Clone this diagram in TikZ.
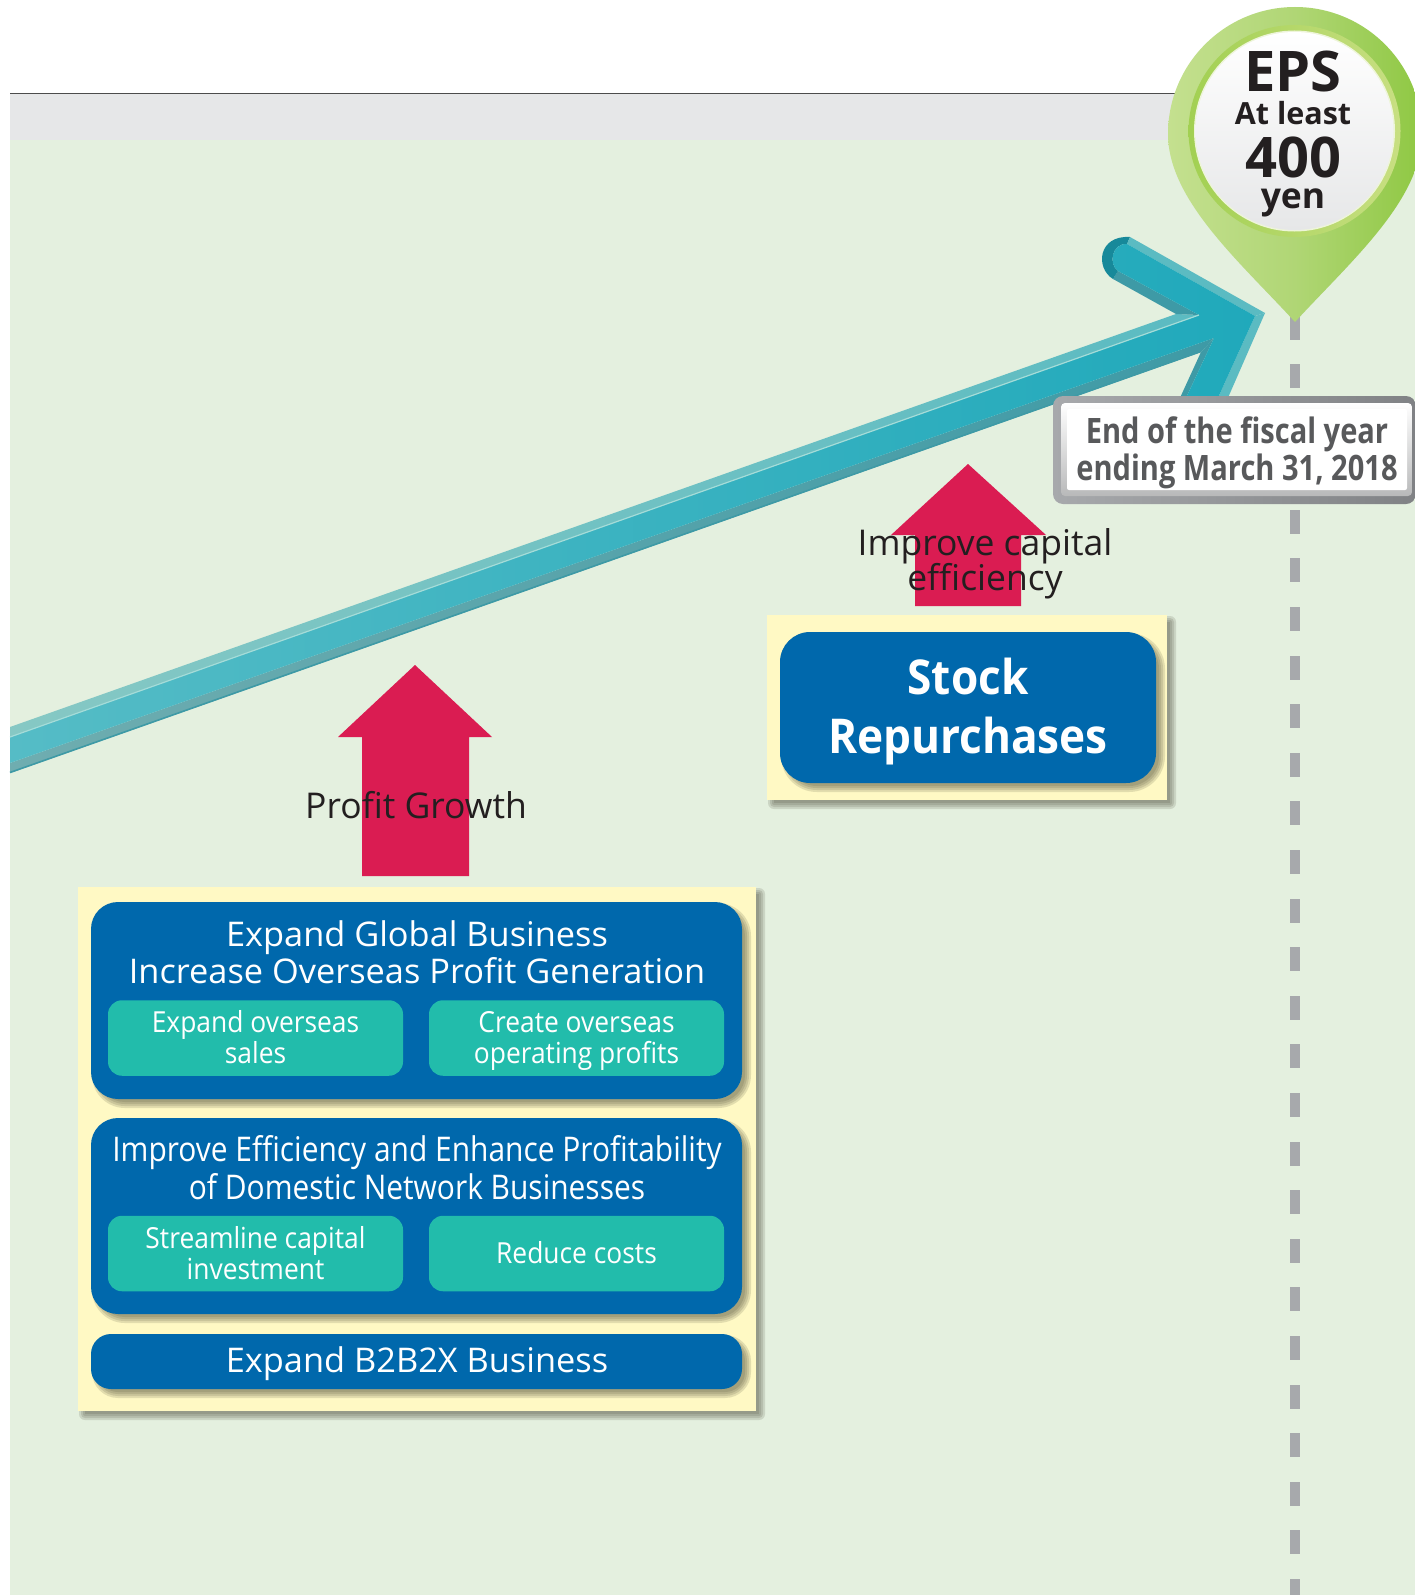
\documentclass[tikz,border=0pt]{standalone}
\usepackage{fontspec}
\setmainfont{Open Sans}
\newfontfamily\fhead[FakeStretch=1.01]{Open Sans}
\newfontfamily\fcond[FakeStretch=0.88]{Open Sans}
\newfontfamily\fteal[FakeStretch=0.91]{Open Sans}
\newfontfamily\fpin[FakeStretch=1.0]{Open Sans}
\newfontfamily\flabel[FakeStretch=0.83]{Open Sans}
\newfontfamily\fstock[FakeStretch=0.92]{Open Sans}
\lineskiplimit=-20pt
\definecolor{bggreen}{HTML}{E4F0DF}
\definecolor{band}{HTML}{E6E7E8}
\definecolor{paleyellow}{HTML}{FFF9C4}
\definecolor{bluebox}{HTML}{0068AC}
\definecolor{tealbox}{HTML}{22BCAB}
\definecolor{redarrow}{HTML}{DA1C52}
\definecolor{dashgray}{HTML}{A7A9AC}
\definecolor{inktext}{HTML}{231F20}
\definecolor{labeltext}{HTML}{58595B}
\definecolor{arrowL}{HTML}{55BCC6}
\definecolor{arrowR}{HTML}{20A9BB}
\definecolor{bevelLightL}{HTML}{86C8C4}
\definecolor{bevelLightR}{HTML}{5BBBC2}
\definecolor{bevelDarkL}{HTML}{6FADB0}
\definecolor{bevelDarkR}{HTML}{3E9AA6}
\definecolor{bevelEnd}{HTML}{17899A}
\definecolor{highlight}{HTML}{A5DCD8}
\definecolor{pinL}{HTML}{C4E08F}
\definecolor{pinM}{HTML}{B0D675}
\definecolor{pinR}{HTML}{8FC843}
\definecolor{ringA}{HTML}{A2D052}
\definecolor{ringB}{HTML}{C8DF82}
\definecolor{frameA}{HTML}{A7A9AC}
\definecolor{frameB}{HTML}{808285}
\tikzset{
  base text/.style={inner sep=0pt,outer sep=0pt,anchor=base,align=center},
  white text/.style={base text,text=white},
  dark text/.style={base text,text=inktext},
  gray text/.style={base text,text=labeltext},
  headfont/.style={font=\fhead\fontsize{34}{36.8}\selectfont},
  condfont/.style={font=\fcond\fontsize{34}{37.8}\selectfont},
  tealfont/.style={font=\fteal\fontsize{29}{30.7}\selectfont},
  plainfont/.style={font=\fontsize{35.5}{34.6}\selectfont},
}
\newcommand\softshadow[5]{%
  \foreach \w in {-2,0,2,4}{%
    \fill[black!70!olive,opacity=0.15,rounded corners={#5+\w*1pt+2pt}]
      ({#1+5-\w},{#2+5-\w}) rectangle ({#3+5+\w},{#4+5+\w});}}
\begin{document}
\begin{tikzpicture}[x=1pt,y=-1pt]
\useasboundingbox (0,0) rectangle (1415,1595);
\fill[white] (0,0) rectangle (1415,1595);
% background
\fill[bggreen] (10,93) rectangle (1415,1595);
\fill[band] (10,93) rectangle (1415,140);
\draw[line width=0.8pt,black!70] (10,93) -- (1415,93);
% dashed time line
\foreach \k in {0,...,25}{\fill[dashgray] (1290,{364+48.6*\k}) rectangle (1300,{388+48.6*\k});}
\fill[dashgray] (1290,317) rectangle (1300,340);
% rising arrow: bevel strips then the flat face
\shade[left color=bevelLightL,right color=bevelLightR] (10,727) -- (1176,314) -- (1199,315) -- (10,737) -- cycle;
\shade[left color=bevelDarkL,right color=bevelDarkR] (10,773) -- (1201,352) -- (1214,338) -- (10,763) -- cycle;
\fill[bevelDarkR] (1176,314) -- (1113,279) -- (1118,271) -- (1199,315) -- cycle;
\fill[bevelEnd] (1113,279) .. controls (1095,268) and (1098,235) .. (1130,237) -- (1127,244) .. controls (1112,243) and (1108,264) .. (1118,271) -- cycle;
\fill[bevelLightR] (1130,237) -- (1265,313) -- (1255,316) -- (1127,244) -- cycle;
\fill[bevelLightR] (1265,313) -- (1227,400) -- (1217,400) -- (1255,316) -- cycle;
\fill[bevelDarkR] (1201,352) -- (1179,400) -- (1185,400) -- (1214,338) -- cycle;
\shade[left color=arrowL,right color=arrowR]
  (10,737) -- (1199,315) -- (1118,271) .. controls (1108,264) and (1112,243) .. (1127,244)
  -- (1255,316) -- (1217,400) -- (1185,400) -- (1214,338) -- (10,763) -- cycle;
\draw[highlight,line width=1.2pt] (10,737) -- (1199,315);
\draw[bevelDarkR,line width=1.6pt] (10,772.5) -- (1201,351.5);
% location pin
\shade[left color=pinL,right color=pinR,middle color=pinM]
  (1295,322) .. controls (1240,262) and (1168,200) .. (1168,134)
  arc[start angle=180,end angle=360,radius=127]
  .. controls (1422,200) and (1350,262) .. (1295,322) -- cycle;
\shade[left color=ringA,right color=ringB] (1294.5,131) circle[radius=106];
\fill[white!70!ringB] (1294.5,131) circle[radius=100.5];
\shade[top color=white,bottom color=band] (1294.5,131) circle[radius=99];
\node[dark text,font=\bfseries\fpin\fontsize{56}{56}\selectfont] (epsword) at (1293,91) {EPS};
\node[dark text,font=\bfseries\fpin\fontsize{30.5}{31}\selectfont] (atleast) at (1293,124) {At least};
\node[dark text,font=\bfseries\fpin\fontsize{56}{56}\selectfont] (fourhundred) at (1293,177.5) {400};
\node[dark text,font=\bfseries\fpin\fontsize{35.5}{36}\selectfont] (yenword) at (1293,208) {yen};
% fiscal year label
\shade[left color=frameA,right color=frameB,rounded corners=10pt] (1053,396) rectangle (1416,504);
\shade[top color=white,bottom color=band!80!black,rounded corners=4pt] (1061,403) rectangle (1412,496);
\fill[white,rounded corners=2pt] (1067,409) rectangle (1407,490);
\node[gray text,font=\bfseries\flabel\fontsize{35}{37}\selectfont] (fiscal) at (1237,480)
  {End of the fiscal year\\ending March 31, 2018};
% red arrows
\fill[redarrow] (415,665) -- (492,737) -- (469,737) -- (469,876) -- (362,876) -- (362,737) -- (338,737) -- cycle;
\fill[redarrow] (968,464) -- (1046,535) -- (1021,535) -- (1021,606) -- (915,606) -- (915,535) -- (891,535) -- cycle;
\node[dark text,plainfont] (profit) at (416,818) {Profit Growth};
\node[dark text,plainfont] (capital) at (985,590.5) {Improve capital\\efficiency};
% stock repurchases
\softshadow{767}{615}{1167}{800}{0}
\fill[paleyellow] (767,615) rectangle (1167,800);
\softshadow{780}{632}{1156}{783}{30}
\node[rectangle,fill=bluebox,rounded corners=30pt,minimum width=376pt,minimum height=151pt,inner sep=0pt] (stockbox) at (968,707.5) {};
\node[white text,font=\bfseries\fstock\fontsize{48}{59}\selectfont] (stocktext) at (968,753) {Stock\\Repurchases};
% main yellow panel
\softshadow{78}{887}{756}{1411}{0}
\fill[paleyellow] (78,887) rectangle (756,1411);
\softshadow{91}{902}{742}{1099}{27}
\softshadow{91}{1118}{742}{1314}{27}
\softshadow{91}{1334}{742}{1389}{20}
\node[rectangle,fill=bluebox,rounded corners=27pt,minimum width=651pt,minimum height=197pt,inner sep=0pt] (globalbox) at (416.5,1000.5) {};
\node[rectangle,fill=bluebox,rounded corners=27pt,minimum width=651pt,minimum height=196pt,inner sep=0pt] (domesticbox) at (416.5,1216) {};
\node[rectangle,fill=bluebox,rounded corners=20pt,minimum width=651pt,minimum height=55pt,inner sep=0pt] (btwobox) at (416.5,1361.5) {};
\node[white text,headfont] (globaltext) at (417,983) {Expand Global Business\\Increase Overseas Profit Generation};
\node[white text,condfont] (domestictext) at (417,1199.5) {Improve Efficiency and Enhance Profitability\\of Domestic Network Businesses};
\node[white text,headfont] (btwotext) at (417,1372) {Expand B2B2X Business};
\foreach \nm/\cx/\cy in {a/255.5/1038,b/576.5/1038,c/255.5/1253.5,d/576.5/1253.5}
  \node[rectangle,fill=tealbox,rounded corners=14pt,minimum width=295pt,minimum height=75.5pt,inner sep=0pt] (card\nm) at (\cx,\cy) {};
\node[white text,tealfont] (overseassales) at (255.5,1063) {Expand overseas\\sales};
\node[white text,tealfont] (operating) at (576.5,1063) {Create overseas\\operating profits};
\node[white text,tealfont] (streamline) at (255.5,1279) {Streamline capital\\investment};
\node[white text,tealfont] (reducecosts) at (576.5,1263) {Reduce costs};
\end{tikzpicture}
\end{document}
